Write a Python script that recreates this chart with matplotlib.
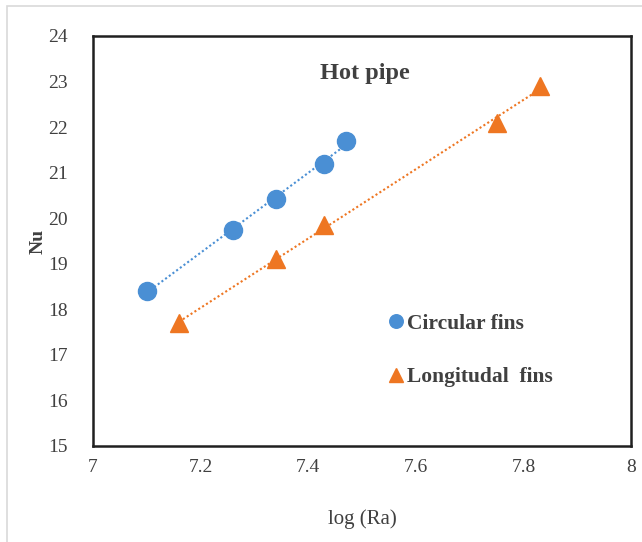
import numpy as np
import matplotlib
matplotlib.use("Agg")
import matplotlib.pyplot as plt
from matplotlib.patches import Rectangle

circ_x = [7.10, 7.26, 7.34, 7.43, 7.47]
circ_y = [18.4, 19.75, 20.42, 21.2, 21.7]
long_x = [7.16, 7.34, 7.43, 7.75, 7.83]
long_y = [17.7, 19.1, 19.85, 22.1, 22.9]
xticks = [7, 7.2, 7.4, 7.6, 7.8, 8]
xticklabels = ["7", "7.2", "7.4", "7.6", "7.8", "8"]
yticks = list(range(15, 25))

plt.rcParams['font.family'] = ['Liberation Serif', 'DejaVu Serif']

blue = '#4a8fd4'
orange = '#ee7622'

fig = plt.figure(figsize=(6.42, 5.42), dpi=100)
fig.patches.append(Rectangle((7/642, -0.1), 1.2, 1.1 - 6/542, transform=fig.transFigure,
                             fill=False, edgecolor='#d9d9d9', linewidth=1.2))
ax = fig.add_axes([93/642, 1 - 446/542, 538/642, 410/542])

for xs, ys, c in [(circ_x, circ_y, blue), (long_x, long_y, orange)]:
    p = np.polyfit(xs, ys, 1)
    xl = np.array([min(xs), max(xs)])
    ax.plot(xl, np.polyval(p, xl), linestyle=(0, (1, 1.2)), color=c, linewidth=1.5, zorder=2)

ax.plot(circ_x, circ_y, 'o', color=blue, markersize=13, linestyle='none', zorder=3, label='Circular fins')
ax.plot(long_x, long_y, '^', color=orange, markersize=13, linestyle='none', zorder=3, label='Longitudal  fins')

ax.set_xlim(7, 8)
ax.set_ylim(15, 24)
ax.set_xticks(xticks)
ax.set_xticklabels(xticklabels)
ax.set_yticks(yticks)
ax.tick_params(length=0, labelsize=14, labelcolor='#404040')
ax.tick_params(axis='y', pad=18)
ax.tick_params(axis='x', pad=9)
for s in ax.spines.values():
    s.set_color('#202020')
    s.set_linewidth(1.8)

ax.set_xlabel('log (Ra)', fontsize=15, color='#404040', labelpad=24)
ax.set_ylabel('Nu', fontsize=14, fontweight='bold', color='#404040', labelpad=1)
ax.text(7.505, 23.18, 'Hot pipe', fontsize=17.5, fontweight='bold', color='#404040', ha='center', va='center')

leg = ax.legend(loc='upper left', bbox_to_anchor=(0.507, 0.37), frameon=False,
                prop={'family': 'Liberation Serif', 'weight': 'bold', 'size': 15.5},
                handletextpad=0.0, handlelength=1.0, labelspacing=1.55, markerscale=0.75)
for t in leg.get_texts():
    t.set_color('#404040')

fig.savefig('out.png', dpi=100)
